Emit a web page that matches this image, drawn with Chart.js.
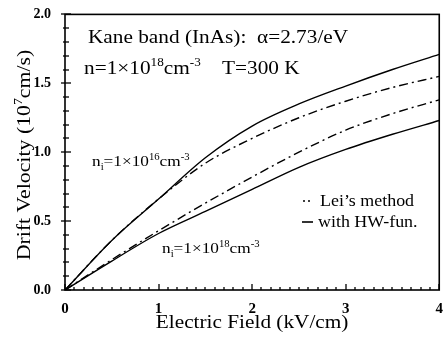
<!DOCTYPE html>
<html><head><meta charset="utf-8">
<script src="https://cdn.jsdelivr.net/npm/chart.js@4/dist/chart.umd.min.js"></script>
<style>html,body{margin:0;padding:0;background:#fff}#wrap{width:445px;height:341px}</style>
</head><body><div id="wrap"><canvas id="c" width="445" height="341"></canvas></div>
<script>
const fieldKV = [0, 0.5, 1, 1.5, 2, 2.5, 3, 3.5, 4];
const hw16 = [0, 0.36, 0.66, 0.96, 1.19, 1.35, 1.48, 1.60, 1.71];
const lei16 = [0, 0.36, 0.66, 0.92, 1.10, 1.25, 1.37, 1.47, 1.55];
const lei18 = [0, 0.22, 0.43, 0.63, 0.82, 1.00, 1.16, 1.28, 1.38];
const hw18 = [0, 0.21, 0.41, 0.57, 0.73, 0.89, 1.02, 1.13, 1.23];
const xTicks = [0, 1, 2, 3, 4];
const yTicks = [0.0, 0.5, 1.0, 1.5, 2.0];

const SERIF = '"Liberation Serif","Times New Roman",serif';
const pts = arr => arr.map((v, i) => ({x: fieldKV[i], y: v}));
const DASHDOT = [9, 4, 2, 4];

function ds(arr, dash) {
  return {data: pts(arr), borderColor: '#000', borderWidth: 1.4, borderDash: dash,
    pointRadius: 0, fill: false, cubicInterpolationMode: 'monotone'};
}

function partsWidth(ctx, parts, size) {
  let w = 0;
  for (const p of parts) { ctx.font = (p.s ? size * 0.62 : size) + 'px ' + SERIF; w += ctx.measureText(p.t).width; }
  return w;
}
function runs(ctx, x, y, parts, size, sx, align) {
  ctx.save();
  ctx.translate(x, y); ctx.scale(sx, 1);
  let cx = 0;
  if (align === 'center') cx = -partsWidth(ctx, parts, size) / 2;
  for (const p of parts) {
    const s = p.s ? size * 0.62 : size;
    ctx.font = s + 'px ' + SERIF;
    const dy = p.s === 'sup' ? -size * 0.4 : (p.s === 'sub' ? size * 0.25 : 0);
    ctx.fillText(p.t, cx, dy);
    cx += ctx.measureText(p.t).width;
  }
  ctx.restore();
}

const deco = {
  id: 'deco',
  afterDraw(chart) {
    const ctx = chart.ctx, a = chart.chartArea;
    const xs = chart.scales.x, ys = chart.scales.y;
    ctx.save();
    ctx.strokeStyle = '#000'; ctx.lineWidth = 1.6;
    ctx.strokeRect(a.left, a.top, a.right - a.left, a.bottom - a.top);
    ctx.lineWidth = 1.3;
    for (let i = 0; i <= 20; i++) {
      const py = Math.round(ys.getPixelForValue(i / 10));
      const major = i % 5 === 0;
      ctx.beginPath(); ctx.moveTo(a.left - (major ? 4 : 2), py); ctx.lineTo(a.left + (major ? 6 : 4), py); ctx.stroke();
    }
    for (let i = 0; i <= 40; i++) {
      const px = Math.round(xs.getPixelForValue(i / 10));
      const L = (i % 10 === 0) ? 6 : 3;
      ctx.beginPath(); ctx.moveTo(px, a.bottom); ctx.lineTo(px, a.bottom - L); ctx.stroke();
    }
    ctx.fillStyle = '#000'; ctx.textBaseline = 'alphabetic'; ctx.textAlign = 'left';
    runs(ctx, 88, 43, [{t: 'Kane band (InAs):  \u03b1=2.73/eV'}], 19, 1.12);
    runs(ctx, 84, 74, [{t: 'n=1\u00d710'}, {t: '18', s: 'sup'}, {t: 'cm'}, {t: '-3', s: 'sup'}, {t: '    T=300 K'}], 19, 1.12);
    runs(ctx, 92, 166, [{t: 'n'}, {t: 'i', s: 'sub'}, {t: '=1\u00d710'}, {t: '16', s: 'sup'}, {t: 'cm'}, {t: '-3', s: 'sup'}], 15, 1.15);
    runs(ctx, 162, 253, [{t: 'n'}, {t: 'i', s: 'sub'}, {t: '=1\u00d710'}, {t: '18', s: 'sup'}, {t: 'cm'}, {t: '-3', s: 'sup'}], 15, 1.15);
    ctx.lineWidth = 1.6;
    ctx.setLineDash([2, 3]);
    ctx.beginPath(); ctx.moveTo(303, 201); ctx.lineTo(313, 201); ctx.stroke();
    ctx.setLineDash([]);
    ctx.beginPath(); ctx.moveTo(302, 222); ctx.lineTo(313, 222); ctx.stroke();
    runs(ctx, 320, 206, [{t: 'Lei\u2019s method'}], 16, 1.12);
    runs(ctx, 318, 227, [{t: 'with HW-fun.'}], 16, 1.12);
    runs(ctx, (a.left + a.right) / 2, 328, [{t: 'Electric Field (kV/cm)'}], 19, 1.12, 'center');
    ctx.save();
    ctx.translate(30, 155); ctx.rotate(-Math.PI / 2);
    runs(ctx, 0, 0, [{t: 'Drift Velocity (10'}, {t: '7', s: 'sup'}, {t: 'cm/s)'}], 19, 1.15, 'center');
    ctx.restore();
    ctx.restore();
  }
};

new Chart(document.getElementById('c'), {
  type: 'line',
  data: {datasets: [ds(hw16, []), ds(lei16, DASHDOT), ds(lei18, DASHDOT), ds(hw18, [])]},
  options: {
    responsive: false, animation: false, devicePixelRatio: 1,
    layout: {padding: {left: 0, right: 2, top: 7, bottom: 0}},
    plugins: {legend: {display: false}, tooltip: {enabled: false}},
    scales: {
      x: {type: 'linear', min: 0, max: 4,
        afterBuildTicks: s => { s.ticks = xTicks.map(v => ({value: v})); },
        afterFit: s => { s.height = 51; },
        grid: {display: false}, border: {display: false},
        ticks: {color: '#000', padding: 2, font: {family: SERIF, size: 15, weight: 'bold'}, maxRotation: 0,
          callback: v => String(v)}},
      y: {min: 0, max: 2,
        afterBuildTicks: s => { s.ticks = yTicks.map(v => ({value: v})); },
        afterFit: s => { s.width = 65; },
        grid: {display: false}, border: {display: false},
        ticks: {color: '#000', padding: 6, font: {family: SERIF, size: 14, weight: 'bold'},
          callback: v => Number(v).toFixed(1)}}
    }
  },
  plugins: [deco]
});
</script></body></html>
